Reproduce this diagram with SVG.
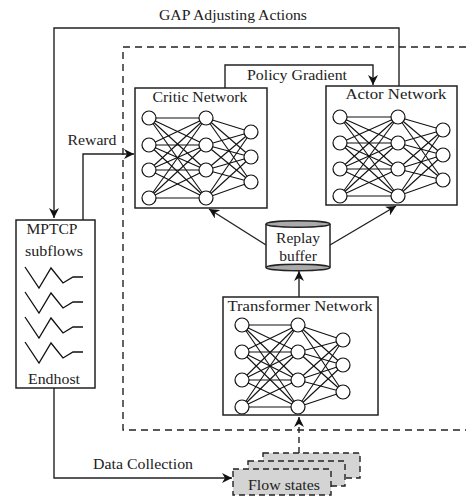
<svg xmlns="http://www.w3.org/2000/svg" width="466" height="498" viewBox="0 0 466 498" font-family="'Liberation Serif', 'Times New Roman', 'DejaVu Serif', serif">
<defs>
<marker id="ah" markerUnits="userSpaceOnUse" markerWidth="12" markerHeight="10" refX="10" refY="5" orient="auto">
<path d="M0,0 L10,5 L0,10 L3,5 Z" fill="#111"/>
</marker>
<style>
text{font-family:'Liberation Serif','Times New Roman','DejaVu Serif',serif;font-size:15.5px;fill:#222}
.box{fill:#fff;stroke:#222;stroke-width:1.5}
.ln{fill:none;stroke:#222;stroke-width:1.4}
.nn line{stroke:#111;stroke-width:1.1}
.nn circle{fill:#fff;stroke:#111;stroke-width:1.2}
.dash{fill:none;stroke:#222;stroke-width:1.4;stroke-dasharray:7,5}
.fs{fill:#d4d4d4;stroke:#222;stroke-width:1.4;stroke-dasharray:6,4}
</style>
</defs>
<rect width="466" height="498" fill="#fff"/>

<g id="agent-boundary">
<path class="dash" d="M466,47 H123 V430 H466"/>
</g>

<g id="connectors">
<path class="ln" d="M399,86 V28 H54 V218" marker-end="url(#ah)"/>
<path class="ln" d="M225,88 V65 H373 V85" marker-end="url(#ah)"/>
<path class="ln" d="M83,220 V154 H134" marker-end="url(#ah)"/>
<path class="ln" d="M54,388 V478 H232" marker-end="url(#ah)"/>
<path class="ln" d="M266,245 L209,209" marker-end="url(#ah)"/>
<path class="ln" d="M330,245 L396,206" marker-end="url(#ah)"/>
<path class="ln" d="M299,297 V271" marker-end="url(#ah)"/>
<path class="dash" d="M299,453 V417" style="stroke-dasharray:6,4" marker-end="url(#ah)"/>
<text x="233" y="20" text-anchor="middle" textLength="148" lengthAdjust="spacingAndGlyphs">GAP Adjusting Actions</text>
<text x="297" y="80" text-anchor="middle" textLength="100" lengthAdjust="spacingAndGlyphs">Policy Gradient</text>
<text x="92" y="145" text-anchor="middle" textLength="49" lengthAdjust="spacingAndGlyphs">Reward</text>
<text x="143" y="469" text-anchor="middle" textLength="100" lengthAdjust="spacingAndGlyphs">Data Collection</text>
</g>

<g id="critic-network">
<rect class="box" x="135" y="88" width="132" height="120"/>
<text x="200" y="102" text-anchor="middle" textLength="95" lengthAdjust="spacingAndGlyphs">Critic Network</text>
<g class="nn">
<g>
<line x1="149" y1="118" x2="206" y2="118"/><line x1="149" y1="118" x2="206" y2="145"/><line x1="149" y1="118" x2="206" y2="170"/><line x1="149" y1="118" x2="206" y2="198"/>
<line x1="149" y1="145" x2="206" y2="118"/><line x1="149" y1="145" x2="206" y2="145"/><line x1="149" y1="145" x2="206" y2="170"/><line x1="149" y1="145" x2="206" y2="198"/>
<line x1="149" y1="170" x2="206" y2="118"/><line x1="149" y1="170" x2="206" y2="145"/><line x1="149" y1="170" x2="206" y2="170"/><line x1="149" y1="170" x2="206" y2="198"/>
<line x1="149" y1="198" x2="206" y2="118"/><line x1="149" y1="198" x2="206" y2="145"/><line x1="149" y1="198" x2="206" y2="170"/><line x1="149" y1="198" x2="206" y2="198"/>
<line x1="206" y1="118" x2="251" y2="132"/><line x1="206" y1="118" x2="251" y2="157"/><line x1="206" y1="118" x2="251" y2="182"/>
<line x1="206" y1="145" x2="251" y2="132"/><line x1="206" y1="145" x2="251" y2="157"/><line x1="206" y1="145" x2="251" y2="182"/>
<line x1="206" y1="170" x2="251" y2="132"/><line x1="206" y1="170" x2="251" y2="157"/><line x1="206" y1="170" x2="251" y2="182"/>
<line x1="206" y1="198" x2="251" y2="132"/><line x1="206" y1="198" x2="251" y2="157"/><line x1="206" y1="198" x2="251" y2="182"/>
</g>
<circle cx="149" cy="118" r="7"/><circle cx="149" cy="145" r="7"/><circle cx="149" cy="170" r="7"/><circle cx="149" cy="198" r="7"/>
<circle cx="206" cy="118" r="7"/><circle cx="206" cy="145" r="7"/><circle cx="206" cy="170" r="7"/><circle cx="206" cy="198" r="7"/>
<circle cx="251" cy="132" r="7"/><circle cx="251" cy="157" r="7"/><circle cx="251" cy="182" r="7"/>
</g>
</g>

<g id="actor-network">
<rect class="box" x="326" y="86" width="131" height="119"/>
<text x="396" y="99" text-anchor="middle" textLength="101" lengthAdjust="spacingAndGlyphs">Actor Network</text>
<g class="nn">
<g>
<line x1="340" y1="117" x2="398" y2="117"/><line x1="340" y1="117" x2="398" y2="143"/><line x1="340" y1="117" x2="398" y2="169"/><line x1="340" y1="117" x2="398" y2="196"/>
<line x1="340" y1="143" x2="398" y2="117"/><line x1="340" y1="143" x2="398" y2="143"/><line x1="340" y1="143" x2="398" y2="169"/><line x1="340" y1="143" x2="398" y2="196"/>
<line x1="340" y1="169" x2="398" y2="117"/><line x1="340" y1="169" x2="398" y2="143"/><line x1="340" y1="169" x2="398" y2="169"/><line x1="340" y1="169" x2="398" y2="196"/>
<line x1="340" y1="196" x2="398" y2="117"/><line x1="340" y1="196" x2="398" y2="143"/><line x1="340" y1="196" x2="398" y2="169"/><line x1="340" y1="196" x2="398" y2="196"/>
<line x1="398" y1="117" x2="443" y2="130"/><line x1="398" y1="117" x2="443" y2="155"/><line x1="398" y1="117" x2="443" y2="180"/>
<line x1="398" y1="143" x2="443" y2="130"/><line x1="398" y1="143" x2="443" y2="155"/><line x1="398" y1="143" x2="443" y2="180"/>
<line x1="398" y1="169" x2="443" y2="130"/><line x1="398" y1="169" x2="443" y2="155"/><line x1="398" y1="169" x2="443" y2="180"/>
<line x1="398" y1="196" x2="443" y2="130"/><line x1="398" y1="196" x2="443" y2="155"/><line x1="398" y1="196" x2="443" y2="180"/>
</g>
<circle cx="340" cy="117" r="7"/><circle cx="340" cy="143" r="7"/><circle cx="340" cy="169" r="7"/><circle cx="340" cy="196" r="7"/>
<circle cx="398" cy="117" r="7"/><circle cx="398" cy="143" r="7"/><circle cx="398" cy="169" r="7"/><circle cx="398" cy="196" r="7"/>
<circle cx="443" cy="130" r="7"/><circle cx="443" cy="155" r="7"/><circle cx="443" cy="180" r="7"/>
</g>
</g>

<g id="transformer-network">
<rect class="box" x="223" y="297" width="155" height="118"/>
<text x="300" y="311" text-anchor="middle" textLength="145" lengthAdjust="spacingAndGlyphs">Transformer Network</text>
<g class="nn">
<g>
<line x1="242" y1="325" x2="298" y2="325"/><line x1="242" y1="325" x2="298" y2="352"/><line x1="242" y1="325" x2="298" y2="380"/><line x1="242" y1="325" x2="298" y2="407"/>
<line x1="242" y1="352" x2="298" y2="325"/><line x1="242" y1="352" x2="298" y2="352"/><line x1="242" y1="352" x2="298" y2="380"/><line x1="242" y1="352" x2="298" y2="407"/>
<line x1="242" y1="380" x2="298" y2="325"/><line x1="242" y1="380" x2="298" y2="352"/><line x1="242" y1="380" x2="298" y2="380"/><line x1="242" y1="380" x2="298" y2="407"/>
<line x1="242" y1="407" x2="298" y2="325"/><line x1="242" y1="407" x2="298" y2="352"/><line x1="242" y1="407" x2="298" y2="380"/><line x1="242" y1="407" x2="298" y2="407"/>
<line x1="298" y1="325" x2="343" y2="340"/><line x1="298" y1="325" x2="343" y2="365"/><line x1="298" y1="325" x2="343" y2="392"/>
<line x1="298" y1="352" x2="343" y2="340"/><line x1="298" y1="352" x2="343" y2="365"/><line x1="298" y1="352" x2="343" y2="392"/>
<line x1="298" y1="380" x2="343" y2="340"/><line x1="298" y1="380" x2="343" y2="365"/><line x1="298" y1="380" x2="343" y2="392"/>
<line x1="298" y1="407" x2="343" y2="340"/><line x1="298" y1="407" x2="343" y2="365"/><line x1="298" y1="407" x2="343" y2="392"/>
</g>
<circle cx="242" cy="325" r="7"/><circle cx="242" cy="352" r="7"/><circle cx="242" cy="380" r="7"/><circle cx="242" cy="407" r="7"/>
<circle cx="298" cy="325" r="7"/><circle cx="298" cy="352" r="7"/><circle cx="298" cy="380" r="7"/><circle cx="298" cy="407" r="7"/>
<circle cx="343" cy="340" r="7"/><circle cx="343" cy="365" r="7"/><circle cx="343" cy="392" r="7"/>
</g>
</g>

<g id="replay-buffer">
<rect x="266" y="224" width="64" height="43.5" fill="#fff" stroke="none"/>
<line x1="266" y1="224" x2="266" y2="267.5" stroke="#222" stroke-width="1.5"/>
<line x1="330" y1="224" x2="330" y2="267.5" stroke="#222" stroke-width="1.5"/>
<ellipse cx="298" cy="267.5" rx="32" ry="3.2" fill="#aaa" stroke="#222" stroke-width="1.4"/>
<ellipse cx="298" cy="224" rx="32" ry="3.2" fill="#aaa" stroke="#222" stroke-width="1.4"/>
<text x="298" y="243" text-anchor="middle">Replay</text>
<text x="298" y="261" text-anchor="middle">buffer</text>
</g>

<g id="endhost">
<rect class="box" x="16" y="220" width="79" height="168"/>
<text x="52" y="234" text-anchor="middle" textLength="51" lengthAdjust="spacingAndGlyphs">MPTCP</text>
<text x="54" y="256" text-anchor="middle" textLength="58" lengthAdjust="spacingAndGlyphs">subflows</text>
<g fill="none" stroke="#111" stroke-width="1.3">
<path d="M25,267 L39,288 L51,268 L63,283 L73,277 H83"/>
<path d="M25,292 L39,313 L51,293 L63,308 L73,302 H83"/>
<path d="M25,317 L39,338 L51,318 L63,333 L73,327 H83"/>
<path d="M25,342 L39,363 L51,343 L63,358 L73,352 H83"/>
</g>
<text x="54" y="384" text-anchor="middle" textLength="52" lengthAdjust="spacingAndGlyphs">Endhost</text>
</g>

<g id="flow-states">
<rect class="fs" x="263" y="453" width="97" height="25"/>
<rect class="fs" x="248" y="461" width="97" height="25"/>
<rect class="fs" x="233" y="469" width="98" height="26"/>
<text x="284" y="490" text-anchor="middle" textLength="72" lengthAdjust="spacingAndGlyphs">Flow states</text>
</g>
</svg>
